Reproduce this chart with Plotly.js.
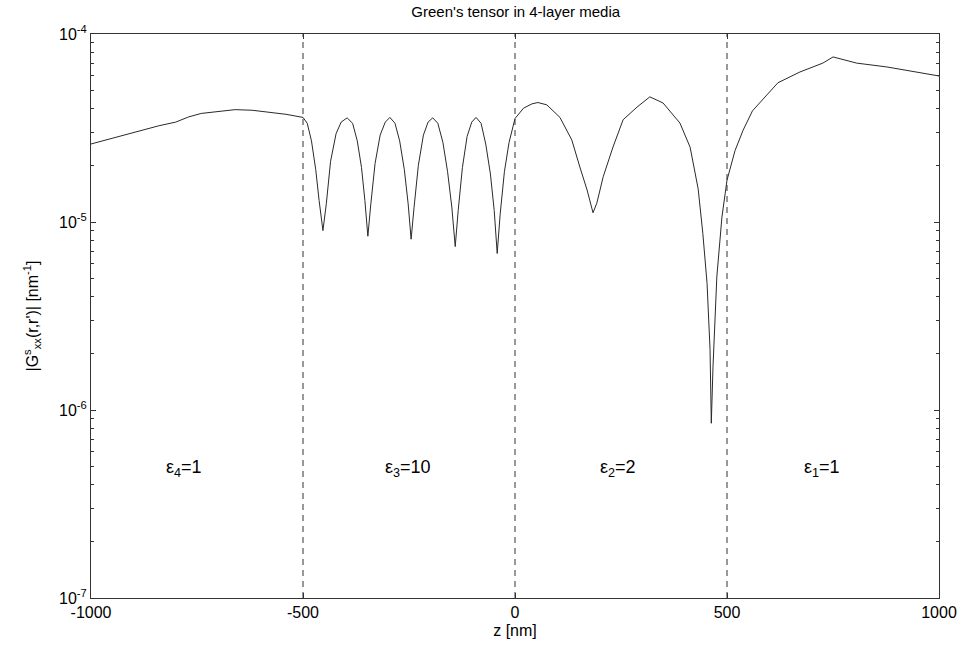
<!DOCTYPE html>
<html>
<head>
<meta charset="utf-8">
<script src="https://cdn.plot.ly/plotly-3.0.1.min.js"></script>
<style>html,body{margin:0;padding:0;background:#fff;}</style>
</head>
<body>
<div id="chart" style="width:964px;height:650px;"></div>
<script>
// z positions [nm]
const zValues = [
  -1000, -960, -920, -880, -840, -800, -770, -740, -700, -660, -620, -580, -540, -500,
  -490, -480, -470, -462, -453, -445, -435, -422, -410, -396,
  -383, -372, -362, -354, -347, -340, -330, -318, -306, -295,
  -283, -272, -261, -252, -245, -238, -228, -216, -205, -194,
  -182, -170, -159, -149, -141, -134, -124, -113, -102, -92,
  -80, -69, -58, -49, -42, -35, -25, -14, -5, 0,
  20, 40, 54, 75, 106, 134, 153, 170, 184, 193, 208, 231, 255, 288, 318, 349, 389, 413, 432, 443, 453, 460, 463, 467, 476, 488, 500,
  519, 538, 560, 594, 620, 672, 726, 750, 806, 877, 940, 1000
];
// |Gxx^s(r,r')| [nm^-1]
const gValues = [
  2.60e-5, 2.75e-5, 2.90e-5, 3.08e-5, 3.25e-5, 3.40e-5, 3.62e-5, 3.78e-5, 3.88e-5, 3.96e-5, 3.93e-5, 3.85e-5, 3.74e-5, 3.60e-5,
  3.35e-5, 2.70e-5, 1.90e-5, 1.30e-5, 9.0e-6, 1.25e-5, 2.10e-5, 2.95e-5, 3.40e-5, 3.58e-5,
  3.35e-5, 2.70e-5, 1.95e-5, 1.30e-5, 8.4e-6, 1.25e-5, 2.05e-5, 2.90e-5, 3.40e-5, 3.60e-5,
  3.35e-5, 2.70e-5, 1.90e-5, 1.25e-5, 8.1e-6, 1.20e-5, 2.00e-5, 2.90e-5, 3.40e-5, 3.58e-5,
  3.35e-5, 2.65e-5, 1.85e-5, 1.20e-5, 7.4e-6, 1.15e-5, 1.95e-5, 2.85e-5, 3.40e-5, 3.60e-5,
  3.35e-5, 2.60e-5, 1.80e-5, 1.15e-5, 6.8e-6, 1.10e-5, 1.85e-5, 2.65e-5, 3.25e-5, 3.55e-5,
  4.03e-5, 4.25e-5, 4.32e-5, 4.20e-5, 3.60e-5, 2.73e-5, 1.96e-5, 1.48e-5, 1.12e-5, 1.26e-5, 1.74e-5, 2.50e-5, 3.50e-5, 4.09e-5, 4.63e-5, 4.30e-5, 3.36e-5, 2.50e-5, 1.50e-5, 8.7e-6, 4.7e-6, 2.1e-6, 8.5e-7, 1.7e-6, 5.1e-6, 1.06e-5, 1.67e-5,
  2.40e-5, 3.08e-5, 3.90e-5, 4.74e-5, 5.50e-5, 6.28e-5, 7.00e-5, 7.55e-5, 7.00e-5, 6.68e-5, 6.30e-5, 5.98e-5
];
// layer boundaries [nm]
const boundaries = [-500, 0, 500];
// layer labels
const layerLabels = ['ε<sub>4</sub>=1', 'ε<sub>3</sub>=10', 'ε<sub>2</sub>=2', 'ε<sub>1</sub>=1'];
const layerLabelZ = [-780, -252, 243, 724];
const layerLabelG = 4.9e-7;
// tick labels
const xTickVals = [-1000, -500, 0, 500, 1000];
const xTickText = ['-1000', '-500', '0', '500', '1000'];
const yTickVals = [1e-7, 1e-6, 1e-5, 1e-4];
const yTickText = ['10<sup>-7</sup>', '10<sup>-6</sup>', '10<sup>-5</sup>', '10<sup>-4</sup>'];
const yMinorVals = [];
[1e-7, 1e-6, 1e-5].forEach(d => { for (let k = 2; k <= 9; k++) yMinorVals.push(k * d); });

const font = 'Liberation Sans, Arial, sans-serif';

const trace = {
  x: zValues, y: gValues, type: 'scatter', mode: 'lines',
  line: {color: '#2a2a2a', width: 1}, hoverinfo: 'skip', showlegend: false
};

const shapes = boundaries.map(b => ({
  type: 'line', xref: 'x', yref: 'paper', x0: b, x1: b, y0: 0, y1: 1,
  line: {color: '#333333', width: 1, dash: '6px,5px'}
}));

const annotations = layerLabels.map((t, i) => ({
  x: layerLabelZ[i], y: Math.log10(layerLabelG), xref: 'x', yref: 'y',
  text: t, showarrow: false, font: {family: font, size: 18, color: '#000'}
}));

const layout = {
  width: 964, height: 650,
  margin: {l: 91, r: 25, t: 34, b: 52},
  paper_bgcolor: '#fff', plot_bgcolor: '#fff',
  title: {text: "Green's tensor in 4-layer media", font: {family: font, size: 15, color: '#000'},
          x: 0.535, xanchor: 'center', y: 1 - 12/650, yanchor: 'middle', yref: 'container'},
  xaxis: {
    range: [-1000, 1000], tickvals: xTickVals, ticktext: xTickText,
    ticks: 'inside', ticklen: 5, tickcolor: '#333', showline: true, linecolor: '#333', linewidth: 1,
    mirror: 'ticks', showgrid: false, zeroline: false,
    tickfont: {family: font, size: 16, color: '#000'},
    title: {text: 'z [nm]', font: {family: font, size: 16, color: '#000'}, standoff: 4}
  },
  yaxis: {
    type: 'log', range: [-7, -4], tickvals: yTickVals, ticktext: yTickText,
    ticks: 'inside', ticklen: 5, tickcolor: '#333', showline: true, linecolor: '#333', linewidth: 1,
    mirror: 'ticks', showgrid: false, zeroline: false,
    tickfont: {family: font, size: 16, color: '#000'},
    minor: {tickvals: yMinorVals, ticks: 'inside', ticklen: 3, tickcolor: '#333', showgrid: false},
    title: {text: "|G<sup>s</sup><sub>xx</sub>(r,r')| [nm<sup>-1</sup>]", font: {family: font, size: 16, color: '#000'}, standoff: 16}
  },
  shapes: shapes,
  annotations: annotations
};

Plotly.newPlot('chart', [trace], layout, {displayModeBar: false, staticPlot: true});
</script>
</body>
</html>
